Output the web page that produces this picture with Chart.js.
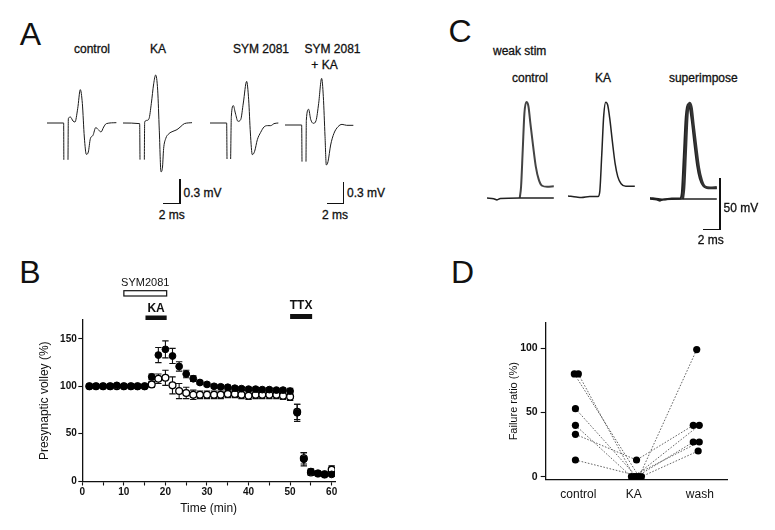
<!DOCTYPE html>
<html>
<head>
<meta charset="utf-8">
<script src="https://cdn.jsdelivr.net/npm/chart.js@4.4.0/dist/chart.umd.min.js"></script>
<style>
body{margin:0;background:#fff;}
#fig{position:relative;width:775px;height:530px;overflow:hidden;font-family:"Liberation Sans",Arial,sans-serif;color:#111;}
#fig canvas{position:absolute;}
.t{position:absolute;white-space:nowrap;line-height:1;transform:translate(-50%,-50%);font-size:12px;-webkit-text-stroke:0.3px #111;}
.t.l{transform:translate(0,-50%);}
.t.big{font-size:32px;-webkit-text-stroke:0;}
.bar{position:absolute;background:#111;}
</style>
</head>
<body>
<div id="fig">
  <!-- A -->
  <div class="t big" style="left:30.5px;top:34px">A</div>
  <div class="t" style="left:92px;top:49px">control</div>
  <div class="t" style="left:158px;top:49px">KA</div>
  <div class="t" style="left:261px;top:49px">SYM 2081</div>
  <div class="t" style="left:332.5px;top:49px">SYM 2081</div>
  <div class="t" style="left:324.5px;top:65px">+ KA</div>
  <canvas id="a1" width="72" height="110" style="left:47.3px;top:67.7px"></canvas>
  <canvas id="a2" width="72" height="110" style="left:122.7px;top:67.7px"></canvas>
  <canvas id="a3" width="72" height="110" style="left:210px;top:68.3px"></canvas>
  <canvas id="a4" width="72" height="110" style="left:285px;top:70px"></canvas>
  <div class="bar" style="left:179.4px;top:179px;width:1.3px;height:24.3px"></div>
  <div class="bar" style="left:163.3px;top:202.7px;width:17.3px;height:1.3px"></div>
  <div class="t l" style="left:183.5px;top:193px">0.3 mV</div>
  <div class="t" style="left:171.7px;top:215px">2 ms</div>
  <div class="bar" style="left:342.7px;top:182px;width:1.3px;height:21.3px"></div>
  <div class="bar" style="left:326.7px;top:202.7px;width:17.3px;height:1.3px"></div>
  <div class="t l" style="left:347px;top:193px">0.3 mV</div>
  <div class="t" style="left:335px;top:215px">2 ms</div>

  <!-- C -->
  <div class="t big" style="left:460px;top:30.5px">C</div>
  <div class="t l" style="left:493px;top:51px">weak stim</div>
  <div class="t" style="left:530px;top:77.5px">control</div>
  <div class="t" style="left:603px;top:78px">KA</div>
  <div class="t" style="left:703.3px;top:78px">superimpose</div>
  <canvas id="c1" width="70" height="110" style="left:486.7px;top:94.3px"></canvas>
  <canvas id="c2" width="70" height="110" style="left:568.3px;top:93.3px"></canvas>
  <canvas id="c3" width="70" height="110" style="left:650px;top:95px"></canvas>
  <div class="bar" style="left:719.4px;top:178.3px;width:1.3px;height:51.6px"></div>
  <div class="bar" style="left:703.3px;top:228.7px;width:17.3px;height:1.3px"></div>
  <div class="t l" style="left:723.5px;top:208px">50 mV</div>
  <div class="t" style="left:710.8px;top:240px">2 ms</div>

  <!-- B -->
  <div class="t big" style="left:30px;top:271.5px">B</div>
  <canvas id="chB" width="360" height="285" style="left:0;top:240px"></canvas>

  <!-- D -->
  <div class="t big" style="left:462.5px;top:272px">D</div>
  <canvas id="chD" width="335" height="220" style="left:440px;top:300px"></canvas>
</div>

<script>
// ---------- panel A: presynaptic volley traces [ms, mV] ----------
const aControl = [[0,0],[1.96,0],[1.98,-0.46],[2.2,null],[2.47,-0.46],[2.51,0.054],[2.75,0.075],[3.06,0.025],[3.29,0.012],[3.61,0.179],[3.92,0.417],[4.16,0.242],[4.39,-0.175],[4.63,-0.392],[4.86,-0.363],[5.1,-0.196],[5.41,-0.154],[5.73,-0.058],[6.04,-0.083],[6.35,-0.113],[6.67,-0.05],[6.98,-0.008],[8.16,0.004]];
const aKA = [[0,0],[1.96,-0.008],[2.0,-0.458],[2.2,null],[2.51,-0.458],[2.55,0.012],[2.82,0.033],[3.06,0.054],[3.33,0.242],[3.61,0.49],[3.84,0.6],[4.08,0.41],[4.27,-0.09],[4.47,-0.61],[4.63,-0.57],[4.78,-0.32],[5.02,-0.196],[5.41,-0.133],[5.88,-0.104],[6.35,-0.083],[6.82,-0.042],[7.22,-0.008],[8.12,0.004]];
const aSym = [[0,0],[1.96,0],[2.0,-0.45],[2.2,null],[2.43,-0.45],[2.51,0.083],[2.75,0.217],[2.98,0.125],[3.29,0.021],[3.61,0.042],[3.92,0.25],[4.31,0.52],[4.55,0.29],[4.75,-0.125],[4.98,-0.396],[5.25,-0.354],[5.57,-0.208],[5.96,-0.117],[6.35,-0.05],[6.75,-0.033],[7.14,-0.033],[7.53,-0.008],[8.04,0]];
const aSymKA = [[0,0],[1.96,0],[2.0,-0.458],[2.2,null],[2.47,-0.458],[2.51,0.062],[2.78,0.196],[3.02,0.071],[3.33,0.021],[3.65,0.054],[3.96,0.27],[4.31,0.583],[4.51,0.354],[4.71,-0.146],[4.86,-0.5],[5.06,-0.458],[5.37,-0.25],[5.76,-0.104],[6.24,-0.021],[6.71,0.008],[7.25,-0.004],[8.04,-0.004]];

// ---------- panel C: weak stim, membrane potential [ms, mV] ----------
const cCtrlSpike = [[3.92,0],[4.08,11],[4.28,47],[4.48,83],[4.72,94],[4.96,90],[5.2,73],[5.52,51],[5.84,31],[6.2,18],[6.6,12],[7.2,11],[8.0,11.4]];
const cCtrlFail = [[0,0],[0.8,-0.7],[1.2,-1.8],[1.6,-0.5],[3.9,0],[8.0,0]];
const cKA = [[0,1],[1.0,0],[1.6,-0.5],[2.6,0.5],[3.6,0.5],[3.8,5],[4.04,41],[4.28,80],[4.52,93],[4.76,90],[5.0,77],[5.32,54],[5.64,33],[5.96,20],[6.36,13],[6.92,10.5],[8.0,10.5]];

// ---------- panel B: presynaptic volley (%) vs time (min) ----------
const bTime = [1.7,3.3,5,6.7,8.3,10,11.7,13.3,15,16.7,18.3,20,21.7,23.3,25,26.7,28.3,30,31.7,33.3,35,36.7,38.3,40,41.7,43.3,45,46.7,48.3,50,51.7,53.3,55,56.7,58.3,60];
const bKA = [100,100,100,100,101,100,100,100,100,110,133,139,132,121,113,108,104,102,100,99.5,99,98,97.5,97,97,96.5,96.5,96,96,95,72,23,10,8,7,7];
const bKAErr = [1,1,1,1,1,1,1,1,1,3,8,9,8,5,4,3,2,2,2,2,2,2,2,2,2,2,2,2,2,3,9,7,3,2,2,2];
const bSymKA = [100,100,100,100,100,100,100,100,100,102,108,109,101,95,93,91,91,91,91,91,92,92,91,90,91,91,91,91,90,89,73,24,9,8,7,12];
const bSymKAErr = [1,1,1,1,1,1,1,1,1,3,5,8,9,8,6,5,4,4,4,4,4,4,4,4,4,4,4,4,4,4,8,6,3,2,2,4];
const bXTicks = [0,10,20,30,40,50,60];
const bXMinor = [5,15,25,35,45,55];
const bYTicks = [0,50,100,150];
const bSymPeriod = [10,20.3];
const bKAPeriod = [15.2,20.3];
const bTTXPeriod = [50,55.3];

// ---------- panel D: failure ratio (%) per cell ----------
const dCats = ['control','KA','wash'];
const dCatX = [1.8,4.85,8.5];
const dCtrl = [80,80,53,40,33,13];
const dKA = [0,0,0,0,13,0];
const dWash = [99,40,27,27,40,20];
const dCtrlX = [1.58,1.8,1.64,1.64,1.64,1.64];
const dKAX = [5.15,4.88,5.01,4.73,5.01,5.28];
const dWashX = [8.33,8.47,8.14,8.47,8.14,8.41];
const dYTicks = [0,50,100];

Chart.defaults.font.family = '"Liberation Sans", Arial, sans-serif';
Chart.defaults.color = '#111';

function trace(id, sets, xmax, ymin, ymax) {
  new Chart(document.getElementById(id), {
    type: 'line',
    data: { datasets: sets.map(s => ({
      data: s.d, borderColor: s.c, borderWidth: s.w, pointRadius: 0,
      cubicInterpolationMode: 'monotone', spanGaps: false, fill: false
    })) },
    options: {
      animation: false, responsive: false, devicePixelRatio: 1, events: [],
      layout: { padding: 0 },
      plugins: { legend: { display: false }, tooltip: { enabled: false } },
      scales: {
        x: { type: 'linear', display: false, min: 0, max: xmax },
        y: { display: false, min: ymin, max: ymax }
      }
    }
  });
}

// A: 8.5 px/ms, 80 px/mV
trace('a1', [{d: aControl, c: '#1a1a1a', w: 1}], 72/8.5, -0.6875, 0.6875);
trace('a2', [{d: aKA, c: '#1a1a1a', w: 1}], 72/8.5, -0.6875, 0.6875);
trace('a3', [{d: aSym, c: '#1a1a1a', w: 1}], 72/8.5, -0.6875, 0.6875);
trace('a4', [{d: aSymKA, c: '#1a1a1a', w: 1}], 72/8.5, -0.6875, 0.6875);

// C: 8.35 px/ms, 1.02 px/mV
trace('c1', [{d: cCtrlFail, c: '#222', w: 1.6}, {d: cCtrlSpike, c: '#444', w: 2}], 70/8.35, -6/1.02, 104/1.02);
trace('c2', [{d: cKA, c: '#222', w: 1.5}], 70/8.35, -6/1.02, 104/1.02);
trace('c3', [{d: cCtrlFail, c: '#222', w: 1.6}, {d: cCtrlSpike, c: '#333', w: 2.6}, {d: cKA, c: '#222', w: 2}], 70/8.35, -6/1.02, 104/1.02);

// ---- B ----
const errorBars = {
  id: 'errorBars',
  beforeDatasetsDraw(chart) {
    const {ctx, scales: {x, y}} = chart;
    ctx.save();
    ctx.strokeStyle = '#111';
    ctx.lineWidth = 1.1;
    chart.data.datasets.forEach(ds => {
      if (!ds.err) return;
      ds.data.forEach((p, i) => {
        const e = ds.err[i];
        const px = x.getPixelForValue(p.x);
        const y1 = y.getPixelForValue(p.y + e), y2 = y.getPixelForValue(p.y - e);
        ctx.beginPath();
        ctx.moveTo(px, y1); ctx.lineTo(px, y2);
        ctx.moveTo(px - 3.2, y1); ctx.lineTo(px + 3.2, y1);
        ctx.moveTo(px - 3.2, y2); ctx.lineTo(px + 3.2, y2);
        ctx.stroke();
      });
    });
    ctx.restore();
  }
};

const treatments = {
  id: 'treatments',
  afterDraw(chart) {
    const {ctx, chartArea: {top}, scales: {x}} = chart;
    ctx.save();
    ctx.fillStyle = '#111';
    ctx.strokeStyle = '#111';
    ctx.textAlign = 'center';
    ctx.textBaseline = 'middle';
    // SYM2081 open bar
    let x1 = x.getPixelForValue(bSymPeriod[0]), x2 = x.getPixelForValue(bSymPeriod[1]);
    ctx.lineWidth = 1.2;
    ctx.strokeRect(x1, top - 29.3, x2 - x1, 5.3);
    ctx.font = '11px "Liberation Sans", Arial, sans-serif';
    ctx.fillText('SYM2081', (x1 + x2) / 2, top - 37);
    // KA filled bar
    x1 = x.getPixelForValue(bKAPeriod[0]); x2 = x.getPixelForValue(bKAPeriod[1]);
    ctx.fillRect(x1, top - 4.5, x2 - x1, 4.5);
    ctx.font = 'bold 12px "Liberation Sans", Arial, sans-serif';
    ctx.fillText('KA', (x1 + x2) / 2, top - 11);
    // TTX filled bar
    x1 = x.getPixelForValue(bTTXPeriod[0]); x2 = x.getPixelForValue(bTTXPeriod[1]);
    ctx.fillRect(x1, top - 6, x2 - x1, 5);
    ctx.fillText('TTX', (x1 + x2) / 2, top - 14);
    ctx.restore();
  }
};

new Chart(document.getElementById('chB'), {
  type: 'scatter',
  data: { datasets: [
    { data: bTime.map((t, i) => ({x: t, y: bKA[i]})), err: bKAErr,
      pointRadius: 3.4, pointBackgroundColor: '#000', pointBorderColor: '#000', pointBorderWidth: 1 },
    { data: bTime.map((t, i) => ({x: t, y: bSymKA[i]})), err: bSymKAErr,
      pointRadius: 3.4, pointBackgroundColor: '#fff', pointBorderColor: '#000', pointBorderWidth: 1.3 }
  ] },
  options: {
    animation: false, responsive: false, devicePixelRatio: 1, events: [],
    layout: { padding: { left: 0, top: 80, right: 25, bottom: 3.5 } },
    plugins: { legend: { display: false }, tooltip: { enabled: false } },
    scales: {
      x: {
        type: 'linear', min: 0, max: 60.8,
        afterFit(s) { s.height = 40; },
        afterBuildTicks(s) { s.ticks = bXTicks.concat(bXMinor).sort((a, b) => a - b).map(v => ({value: v})); },
        border: { color: '#111', width: 1.3 },
        grid: { drawOnChartArea: false, tickLength: 4, tickColor: '#111', tickWidth: 1.1 },
        ticks: { callback: v => bXTicks.includes(v) ? v : '', padding: 0.5, maxRotation: 0, autoSkip: false,
                 font: { size: 10, weight: 'bold' }, color: '#111' },
        title: { display: true, text: 'Time (min)', font: { size: 12 }, color: '#111', padding: { top: 0, bottom: 5.3 } }
      },
      y: {
        min: -0.5, max: 170,
        afterFit(s) { s.width = 82.3; },
        afterBuildTicks(s) { s.ticks = bYTicks.map(v => ({value: v})); },
        border: { color: '#111', width: 1.3 },
        grid: { drawOnChartArea: false, tickLength: 4, tickColor: '#111', tickWidth: 1.1 },
        ticks: { padding: 1.5, font: { size: 10, weight: 'bold' }, color: '#111' },
        title: { display: true, text: 'Presynaptic volley (%)', font: { size: 12 }, color: '#111', padding: { top: 37.8, bottom: 0 } }
      }
    }
  },
  plugins: [errorBars, treatments]
});

// ---- D ----
new Chart(document.getElementById('chD'), {
  type: 'scatter',
  data: { datasets: dCtrl.map((c, i) => ({
    data: [{x: dCtrlX[i], y: c}, {x: dKAX[i], y: dKA[i]}, {x: dWashX[i], y: dWash[i]}],
    showLine: true, borderColor: '#555', borderWidth: 0.9, borderDash: [1.6, 1.6],
    pointRadius: 3.6, pointBackgroundColor: '#000', pointBorderWidth: 0
  })) },
  options: {
    animation: false, responsive: false, devicePixelRatio: 1, events: [],
    layout: { padding: { left: 0, top: 22.6, right: 48, bottom: 10.1 } },
    plugins: { legend: { display: false }, tooltip: { enabled: false } },
    scales: {
      x: {
        type: 'linear', min: 0, max: 10,
        afterFit(s) { s.height = 30; },
        afterBuildTicks(s) { s.ticks = dCatX.map(v => ({value: v})); },
        border: { color: '#111', width: 1.3 },
        grid: { display: true, drawOnChartArea: false, drawTicks: false },
        ticks: { callback: (v, i) => dCats[i], padding: 7.9, maxRotation: 0, autoSkip: false,
                 font: { size: 12 }, color: '#111' }
      },
      y: {
        min: -2.5, max: 120,
        afterFit(s) { s.width = 105.7; },
        afterBuildTicks(s) { s.ticks = dYTicks.map(v => ({value: v})); },
        border: { color: '#111', width: 1.3 },
        grid: { drawOnChartArea: false, tickLength: 5, tickColor: '#111', tickWidth: 1.1 },
        ticks: { padding: 3, font: { size: 10.5, weight: 'bold' }, color: '#111' },
        title: { display: true, text: 'Failure ratio (%)', font: { size: 11 }, color: '#111', padding: { top: 67.4, bottom: 0 } }
      }
    }
  }
});
</script>
</body>
</html>
